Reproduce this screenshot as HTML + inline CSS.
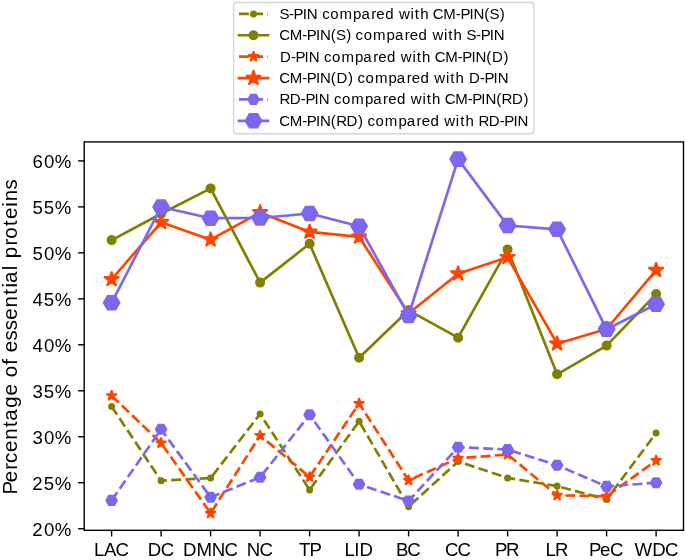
<!DOCTYPE html>
<html><head><meta charset="utf-8"><title>Percentage of essential proteins</title>
<style>html,body{margin:0;padding:0;background:#fff;}body{width:685px;height:560px;overflow:hidden;font-family:"Liberation Sans",sans-serif;}svg{display:block;will-change:transform;filter:blur(0.3px);}</style>
</head><body>
<svg width="685" height="560" viewBox="0 0 685 560" font-family="'Liberation Sans', sans-serif" fill="#000">
<rect x="84.2" y="141.9" width="599.3" height="388.4" fill="none" stroke="#000" stroke-width="1.4" stroke-linejoin="miter"/>
<line x1="78.1" y1="528.7" x2="84.2" y2="528.7" stroke="#000" stroke-width="1.4"/>
<text x="32.35 43.88 54.86" y="535.8" font-size="18.64">20%</text>
<line x1="78.1" y1="482.73" x2="84.2" y2="482.73" stroke="#000" stroke-width="1.4"/>
<text x="32.35 43.81 54.86" y="489.83" font-size="18.64">25%</text>
<line x1="78.1" y1="436.75" x2="84.2" y2="436.75" stroke="#000" stroke-width="1.4"/>
<text x="32.61 43.88 54.86" y="443.85" font-size="18.64">30%</text>
<line x1="78.1" y1="390.78" x2="84.2" y2="390.78" stroke="#000" stroke-width="1.4"/>
<text x="32.61 43.81 54.86" y="397.88" font-size="18.64">35%</text>
<line x1="78.1" y1="344.8" x2="84.2" y2="344.8" stroke="#000" stroke-width="1.4"/>
<text x="32.59 43.88 54.86" y="351.9" font-size="18.64">40%</text>
<line x1="78.1" y1="298.83" x2="84.2" y2="298.83" stroke="#000" stroke-width="1.4"/>
<text x="32.59 43.81 54.86" y="305.93" font-size="18.64">45%</text>
<line x1="78.1" y1="252.85" x2="84.2" y2="252.85" stroke="#000" stroke-width="1.4"/>
<text x="32.52 43.88 54.86" y="259.95" font-size="18.64">50%</text>
<line x1="78.1" y1="206.88" x2="84.2" y2="206.88" stroke="#000" stroke-width="1.4"/>
<text x="32.52 43.81 54.86" y="213.98" font-size="18.64">55%</text>
<line x1="78.1" y1="160.9" x2="84.2" y2="160.9" stroke="#000" stroke-width="1.4"/>
<text x="32.59 43.88 54.86" y="168" font-size="18.64">60%</text>
<line x1="111.6" y1="530.3" x2="111.6" y2="536.4" stroke="#000" stroke-width="1.4"/>
<text x="94.08 104.1 115.44" y="556.3" font-size="18.64">LAC</text>
<line x1="161.1" y1="530.3" x2="161.1" y2="536.4" stroke="#000" stroke-width="1.4"/>
<text x="147.81 160.71" y="556.3" font-size="18.64">DC</text>
<line x1="210.6" y1="530.3" x2="210.6" y2="536.4" stroke="#000" stroke-width="1.4"/>
<text x="183.02 196.45 211.77 224.51" y="556.3" font-size="18.64">DMNC</text>
<line x1="260.1" y1="530.3" x2="260.1" y2="536.4" stroke="#000" stroke-width="1.4"/>
<text x="246.78 259.52" y="556.3" font-size="18.64">NC</text>
<line x1="309.6" y1="530.3" x2="309.6" y2="536.4" stroke="#000" stroke-width="1.4"/>
<text x="298.89 309.43" y="556.3" font-size="18.64">TP</text>
<line x1="359.1" y1="530.3" x2="359.1" y2="536.4" stroke="#000" stroke-width="1.4"/>
<text x="344.49 354.27 359.61" y="556.3" font-size="18.64">LID</text>
<line x1="408.6" y1="530.3" x2="408.6" y2="536.4" stroke="#000" stroke-width="1.4"/>
<text x="395.92 407.31" y="556.3" font-size="18.64">BC</text>
<line x1="458.1" y1="530.3" x2="458.1" y2="536.4" stroke="#000" stroke-width="1.4"/>
<text x="445.06 457.45" y="556.3" font-size="18.64">CC</text>
<line x1="507.6" y1="530.3" x2="507.6" y2="536.4" stroke="#000" stroke-width="1.4"/>
<text x="494.9 505.89" y="556.3" font-size="18.64">PR</text>
<line x1="557.1" y1="530.3" x2="557.1" y2="536.4" stroke="#000" stroke-width="1.4"/>
<text x="545.5 554.98" y="556.3" font-size="18.64">LR</text>
<line x1="606.6" y1="530.3" x2="606.6" y2="536.4" stroke="#000" stroke-width="1.4"/>
<text x="588.95 599.9 609.88" y="556.3" font-size="18.64">PeC</text>
<line x1="656.1" y1="530.3" x2="656.1" y2="536.4" stroke="#000" stroke-width="1.4"/>
<text x="634.46 652.16 665.06" y="556.3" font-size="18.64">WDC</text>
<g transform="translate(17.1,336.05) rotate(-90)"><text x="-158.34 -146.28 -133.62 -126.98 -115.9 -103.68 -90.89 -84.61 -71.8 -59.42 -47.74 -41.25 -28.72 -22.68 -16.12 -4.34 5.85 16.28 28.49 41.28 48.46 52.99 65.86 70.86 77.69 90.46 97.37 109.98 117.06 129.19 134.71 146.67" y="0" font-size="20.53">Percentage of essential proteins</text></g>
<polyline points="111.6,406.4 161.1,480.7 210.6,478.1 260.1,414 309.6,489.9 359.1,421.3 408.6,506.7 458.1,461.5 507.6,477.9 557.1,486.1 606.6,499.4 656.1,433.1" fill="none" stroke="#808000" stroke-width="2.68" stroke-dasharray="9.91 4.29" stroke-linejoin="round" stroke-linecap="butt"/>
<circle cx="111.6" cy="406.4" r="2.63" fill="#808000" stroke="#808000" stroke-width="1.74"/>
<circle cx="161.1" cy="480.7" r="2.63" fill="#808000" stroke="#808000" stroke-width="1.74"/>
<circle cx="210.6" cy="478.1" r="2.63" fill="#808000" stroke="#808000" stroke-width="1.74"/>
<circle cx="260.1" cy="414" r="2.63" fill="#808000" stroke="#808000" stroke-width="1.74"/>
<circle cx="309.6" cy="489.9" r="2.63" fill="#808000" stroke="#808000" stroke-width="1.74"/>
<circle cx="359.1" cy="421.3" r="2.63" fill="#808000" stroke="#808000" stroke-width="1.74"/>
<circle cx="408.6" cy="506.7" r="2.63" fill="#808000" stroke="#808000" stroke-width="1.74"/>
<circle cx="458.1" cy="461.5" r="2.63" fill="#808000" stroke="#808000" stroke-width="1.74"/>
<circle cx="507.6" cy="477.9" r="2.63" fill="#808000" stroke="#808000" stroke-width="1.74"/>
<circle cx="557.1" cy="486.1" r="2.63" fill="#808000" stroke="#808000" stroke-width="1.74"/>
<circle cx="606.6" cy="499.4" r="2.63" fill="#808000" stroke="#808000" stroke-width="1.74"/>
<circle cx="656.1" cy="433.1" r="2.63" fill="#808000" stroke="#808000" stroke-width="1.74"/>
<polyline points="111.6,240.1 161.1,213.7 210.6,188.4 260.1,282.6 309.6,243.8 359.1,357.8 408.6,310.3 458.1,337.7 507.6,249.4 557.1,374.3 606.6,345.6 656.1,294.1" fill="none" stroke="#808000" stroke-width="2.68" stroke-linejoin="round" stroke-linecap="square"/>
<circle cx="111.6" cy="240.1" r="4.13" fill="#808000" stroke="#808000" stroke-width="1.74"/>
<circle cx="161.1" cy="213.7" r="4.13" fill="#808000" stroke="#808000" stroke-width="1.74"/>
<circle cx="210.6" cy="188.4" r="4.13" fill="#808000" stroke="#808000" stroke-width="1.74"/>
<circle cx="260.1" cy="282.6" r="4.13" fill="#808000" stroke="#808000" stroke-width="1.74"/>
<circle cx="309.6" cy="243.8" r="4.13" fill="#808000" stroke="#808000" stroke-width="1.74"/>
<circle cx="359.1" cy="357.8" r="4.13" fill="#808000" stroke="#808000" stroke-width="1.74"/>
<circle cx="408.6" cy="310.3" r="4.13" fill="#808000" stroke="#808000" stroke-width="1.74"/>
<circle cx="458.1" cy="337.7" r="4.13" fill="#808000" stroke="#808000" stroke-width="1.74"/>
<circle cx="507.6" cy="249.4" r="4.13" fill="#808000" stroke="#808000" stroke-width="1.74"/>
<circle cx="557.1" cy="374.3" r="4.13" fill="#808000" stroke="#808000" stroke-width="1.74"/>
<circle cx="606.6" cy="345.6" r="4.13" fill="#808000" stroke="#808000" stroke-width="1.74"/>
<circle cx="656.1" cy="294.1" r="4.13" fill="#808000" stroke="#808000" stroke-width="1.74"/>
<polyline points="111.6,395.7 161.1,443 210.6,513.3 260.1,435.5 309.6,477 359.1,403.5 408.6,480.3 458.1,458.3 507.6,454.5 557.1,495.3 606.6,496.3 656.1,460.6" fill="none" stroke="#ff4500" stroke-width="2.68" stroke-dasharray="9.91 4.29" stroke-linejoin="round" stroke-linecap="butt"/>
<polygon points="111.6,390.2 110.37,394 106.37,394 109.6,396.35 108.37,400.15 111.6,397.8 114.83,400.15 113.6,396.35 116.83,394 112.83,394" fill="#ff4500" stroke="#ff4500" stroke-width="1.74" stroke-linejoin="bevel"/>
<polygon points="161.1,437.5 159.87,441.3 155.87,441.3 159.1,443.65 157.87,447.45 161.1,445.1 164.33,447.45 163.1,443.65 166.33,441.3 162.33,441.3" fill="#ff4500" stroke="#ff4500" stroke-width="1.74" stroke-linejoin="bevel"/>
<polygon points="210.6,507.8 209.37,511.6 205.37,511.6 208.6,513.95 207.37,517.75 210.6,515.4 213.83,517.75 212.6,513.95 215.83,511.6 211.83,511.6" fill="#ff4500" stroke="#ff4500" stroke-width="1.74" stroke-linejoin="bevel"/>
<polygon points="260.1,430 258.87,433.8 254.87,433.8 258.1,436.15 256.87,439.95 260.1,437.6 263.33,439.95 262.1,436.15 265.33,433.8 261.33,433.8" fill="#ff4500" stroke="#ff4500" stroke-width="1.74" stroke-linejoin="bevel"/>
<polygon points="309.6,471.5 308.37,475.3 304.37,475.3 307.6,477.65 306.37,481.45 309.6,479.1 312.83,481.45 311.6,477.65 314.83,475.3 310.83,475.3" fill="#ff4500" stroke="#ff4500" stroke-width="1.74" stroke-linejoin="bevel"/>
<polygon points="359.1,398 357.87,401.8 353.87,401.8 357.1,404.15 355.87,407.95 359.1,405.6 362.33,407.95 361.1,404.15 364.33,401.8 360.33,401.8" fill="#ff4500" stroke="#ff4500" stroke-width="1.74" stroke-linejoin="bevel"/>
<polygon points="408.6,474.8 407.37,478.6 403.37,478.6 406.6,480.95 405.37,484.75 408.6,482.4 411.83,484.75 410.6,480.95 413.83,478.6 409.83,478.6" fill="#ff4500" stroke="#ff4500" stroke-width="1.74" stroke-linejoin="bevel"/>
<polygon points="458.1,452.8 456.87,456.6 452.87,456.6 456.1,458.95 454.87,462.75 458.1,460.4 461.33,462.75 460.1,458.95 463.33,456.6 459.33,456.6" fill="#ff4500" stroke="#ff4500" stroke-width="1.74" stroke-linejoin="bevel"/>
<polygon points="507.6,449 506.37,452.8 502.37,452.8 505.6,455.15 504.37,458.95 507.6,456.6 510.83,458.95 509.6,455.15 512.83,452.8 508.83,452.8" fill="#ff4500" stroke="#ff4500" stroke-width="1.74" stroke-linejoin="bevel"/>
<polygon points="557.1,489.8 555.87,493.6 551.87,493.6 555.1,495.95 553.87,499.75 557.1,497.4 560.33,499.75 559.1,495.95 562.33,493.6 558.33,493.6" fill="#ff4500" stroke="#ff4500" stroke-width="1.74" stroke-linejoin="bevel"/>
<polygon points="606.6,490.8 605.37,494.6 601.37,494.6 604.6,496.95 603.37,500.75 606.6,498.4 609.83,500.75 608.6,496.95 611.83,494.6 607.83,494.6" fill="#ff4500" stroke="#ff4500" stroke-width="1.74" stroke-linejoin="bevel"/>
<polygon points="656.1,455.1 654.87,458.9 650.87,458.9 654.1,461.25 652.87,465.05 656.1,462.7 659.33,465.05 658.1,461.25 661.33,458.9 657.33,458.9" fill="#ff4500" stroke="#ff4500" stroke-width="1.74" stroke-linejoin="bevel"/>
<polyline points="111.6,279.4 161.1,222.3 210.6,239.7 260.1,212.4 309.6,231.9 359.1,236.9 408.6,313.5 458.1,273.7 507.6,257.3 557.1,343.7 606.6,329 656.1,270.2" fill="none" stroke="#ff4500" stroke-width="2.68" stroke-linejoin="round" stroke-linecap="square"/>
<polygon points="111.6,271.4 109.8,276.93 103.99,276.93 108.69,280.34 106.9,285.87 111.6,282.46 116.3,285.87 114.51,280.34 119.21,276.93 113.4,276.93" fill="#ff4500" stroke="#ff4500" stroke-width="1.74" stroke-linejoin="bevel"/>
<polygon points="161.1,214.3 159.3,219.83 153.49,219.83 158.19,223.24 156.4,228.77 161.1,225.36 165.8,228.77 164.01,223.24 168.71,219.83 162.9,219.83" fill="#ff4500" stroke="#ff4500" stroke-width="1.74" stroke-linejoin="bevel"/>
<polygon points="210.6,231.7 208.8,237.23 202.99,237.23 207.69,240.64 205.9,246.17 210.6,242.76 215.3,246.17 213.51,240.64 218.21,237.23 212.4,237.23" fill="#ff4500" stroke="#ff4500" stroke-width="1.74" stroke-linejoin="bevel"/>
<polygon points="260.1,204.4 258.3,209.93 252.49,209.93 257.19,213.34 255.4,218.87 260.1,215.46 264.8,218.87 263.01,213.34 267.71,209.93 261.9,209.93" fill="#ff4500" stroke="#ff4500" stroke-width="1.74" stroke-linejoin="bevel"/>
<polygon points="309.6,223.9 307.8,229.43 301.99,229.43 306.69,232.84 304.9,238.37 309.6,234.96 314.3,238.37 312.51,232.84 317.21,229.43 311.4,229.43" fill="#ff4500" stroke="#ff4500" stroke-width="1.74" stroke-linejoin="bevel"/>
<polygon points="359.1,228.9 357.3,234.43 351.49,234.43 356.19,237.84 354.4,243.37 359.1,239.96 363.8,243.37 362.01,237.84 366.71,234.43 360.9,234.43" fill="#ff4500" stroke="#ff4500" stroke-width="1.74" stroke-linejoin="bevel"/>
<polygon points="408.6,305.5 406.8,311.03 400.99,311.03 405.69,314.44 403.9,319.97 408.6,316.56 413.3,319.97 411.51,314.44 416.21,311.03 410.4,311.03" fill="#ff4500" stroke="#ff4500" stroke-width="1.74" stroke-linejoin="bevel"/>
<polygon points="458.1,265.7 456.3,271.23 450.49,271.23 455.19,274.64 453.4,280.17 458.1,276.76 462.8,280.17 461.01,274.64 465.71,271.23 459.9,271.23" fill="#ff4500" stroke="#ff4500" stroke-width="1.74" stroke-linejoin="bevel"/>
<polygon points="507.6,249.3 505.8,254.83 499.99,254.83 504.69,258.24 502.9,263.77 507.6,260.36 512.3,263.77 510.51,258.24 515.21,254.83 509.4,254.83" fill="#ff4500" stroke="#ff4500" stroke-width="1.74" stroke-linejoin="bevel"/>
<polygon points="557.1,335.7 555.3,341.23 549.49,341.23 554.19,344.64 552.4,350.17 557.1,346.76 561.8,350.17 560.01,344.64 564.71,341.23 558.9,341.23" fill="#ff4500" stroke="#ff4500" stroke-width="1.74" stroke-linejoin="bevel"/>
<polygon points="606.6,321 604.8,326.53 598.99,326.53 603.69,329.94 601.9,335.47 606.6,332.06 611.3,335.47 609.51,329.94 614.21,326.53 608.4,326.53" fill="#ff4500" stroke="#ff4500" stroke-width="1.74" stroke-linejoin="bevel"/>
<polygon points="656.1,262.2 654.3,267.73 648.49,267.73 653.19,271.14 651.4,276.67 656.1,273.26 660.8,276.67 659.01,271.14 663.71,267.73 657.9,267.73" fill="#ff4500" stroke="#ff4500" stroke-width="1.74" stroke-linejoin="bevel"/>
<polyline points="111.6,500.4 161.1,429.3 210.6,497.3 260.1,477.3 309.6,414.8 359.1,484.3 408.6,501 458.1,447.2 507.6,449.5 557.1,465.3 606.6,486.4 656.1,482.7" fill="none" stroke="#7b68ee" stroke-width="2.68" stroke-dasharray="9.91 4.29" stroke-linejoin="round" stroke-linecap="butt"/>
<polygon points="117,500.4 114.3,495.72 108.9,495.72 106.2,500.4 108.9,505.08 114.3,505.08" fill="#7b68ee" stroke="#7b68ee" stroke-width="1.74" stroke-linejoin="miter"/>
<polygon points="166.5,429.3 163.8,424.62 158.4,424.62 155.7,429.3 158.4,433.98 163.8,433.98" fill="#7b68ee" stroke="#7b68ee" stroke-width="1.74" stroke-linejoin="miter"/>
<polygon points="216,497.3 213.3,492.62 207.9,492.62 205.2,497.3 207.9,501.98 213.3,501.98" fill="#7b68ee" stroke="#7b68ee" stroke-width="1.74" stroke-linejoin="miter"/>
<polygon points="265.5,477.3 262.8,472.62 257.4,472.62 254.7,477.3 257.4,481.98 262.8,481.98" fill="#7b68ee" stroke="#7b68ee" stroke-width="1.74" stroke-linejoin="miter"/>
<polygon points="315,414.8 312.3,410.12 306.9,410.12 304.2,414.8 306.9,419.48 312.3,419.48" fill="#7b68ee" stroke="#7b68ee" stroke-width="1.74" stroke-linejoin="miter"/>
<polygon points="364.5,484.3 361.8,479.62 356.4,479.62 353.7,484.3 356.4,488.98 361.8,488.98" fill="#7b68ee" stroke="#7b68ee" stroke-width="1.74" stroke-linejoin="miter"/>
<polygon points="414,501 411.3,496.32 405.9,496.32 403.2,501 405.9,505.68 411.3,505.68" fill="#7b68ee" stroke="#7b68ee" stroke-width="1.74" stroke-linejoin="miter"/>
<polygon points="463.5,447.2 460.8,442.52 455.4,442.52 452.7,447.2 455.4,451.88 460.8,451.88" fill="#7b68ee" stroke="#7b68ee" stroke-width="1.74" stroke-linejoin="miter"/>
<polygon points="513,449.5 510.3,444.82 504.9,444.82 502.2,449.5 504.9,454.18 510.3,454.18" fill="#7b68ee" stroke="#7b68ee" stroke-width="1.74" stroke-linejoin="miter"/>
<polygon points="562.5,465.3 559.8,460.62 554.4,460.62 551.7,465.3 554.4,469.98 559.8,469.98" fill="#7b68ee" stroke="#7b68ee" stroke-width="1.74" stroke-linejoin="miter"/>
<polygon points="612,486.4 609.3,481.72 603.9,481.72 601.2,486.4 603.9,491.08 609.3,491.08" fill="#7b68ee" stroke="#7b68ee" stroke-width="1.74" stroke-linejoin="miter"/>
<polygon points="661.5,482.7 658.8,478.02 653.4,478.02 650.7,482.7 653.4,487.38 658.8,487.38" fill="#7b68ee" stroke="#7b68ee" stroke-width="1.74" stroke-linejoin="miter"/>
<polyline points="111.6,302.8 161.1,207 210.6,218.2 260.1,218 309.6,213.5 359.1,226.3 408.6,315.4 458.1,159.1 507.6,225.5 557.1,229.3 606.6,329.3 656.1,304.3" fill="none" stroke="#7b68ee" stroke-width="2.68" stroke-linejoin="round" stroke-linecap="square"/>
<polygon points="119.6,302.8 115.6,295.87 107.6,295.87 103.6,302.8 107.6,309.73 115.6,309.73" fill="#7b68ee" stroke="#7b68ee" stroke-width="1.74" stroke-linejoin="miter"/>
<polygon points="169.1,207 165.1,200.07 157.1,200.07 153.1,207 157.1,213.93 165.1,213.93" fill="#7b68ee" stroke="#7b68ee" stroke-width="1.74" stroke-linejoin="miter"/>
<polygon points="218.6,218.2 214.6,211.27 206.6,211.27 202.6,218.2 206.6,225.13 214.6,225.13" fill="#7b68ee" stroke="#7b68ee" stroke-width="1.74" stroke-linejoin="miter"/>
<polygon points="268.1,218 264.1,211.07 256.1,211.07 252.1,218 256.1,224.93 264.1,224.93" fill="#7b68ee" stroke="#7b68ee" stroke-width="1.74" stroke-linejoin="miter"/>
<polygon points="317.6,213.5 313.6,206.57 305.6,206.57 301.6,213.5 305.6,220.43 313.6,220.43" fill="#7b68ee" stroke="#7b68ee" stroke-width="1.74" stroke-linejoin="miter"/>
<polygon points="367.1,226.3 363.1,219.37 355.1,219.37 351.1,226.3 355.1,233.23 363.1,233.23" fill="#7b68ee" stroke="#7b68ee" stroke-width="1.74" stroke-linejoin="miter"/>
<polygon points="416.6,315.4 412.6,308.47 404.6,308.47 400.6,315.4 404.6,322.33 412.6,322.33" fill="#7b68ee" stroke="#7b68ee" stroke-width="1.74" stroke-linejoin="miter"/>
<polygon points="466.1,159.1 462.1,152.17 454.1,152.17 450.1,159.1 454.1,166.03 462.1,166.03" fill="#7b68ee" stroke="#7b68ee" stroke-width="1.74" stroke-linejoin="miter"/>
<polygon points="515.6,225.5 511.6,218.57 503.6,218.57 499.6,225.5 503.6,232.43 511.6,232.43" fill="#7b68ee" stroke="#7b68ee" stroke-width="1.74" stroke-linejoin="miter"/>
<polygon points="565.1,229.3 561.1,222.37 553.1,222.37 549.1,229.3 553.1,236.23 561.1,236.23" fill="#7b68ee" stroke="#7b68ee" stroke-width="1.74" stroke-linejoin="miter"/>
<polygon points="614.6,329.3 610.6,322.37 602.6,322.37 598.6,329.3 602.6,336.23 610.6,336.23" fill="#7b68ee" stroke="#7b68ee" stroke-width="1.74" stroke-linejoin="miter"/>
<polygon points="664.1,304.3 660.1,297.37 652.1,297.37 648.1,304.3 652.1,311.23 660.1,311.23" fill="#7b68ee" stroke="#7b68ee" stroke-width="1.74" stroke-linejoin="miter"/>
<rect x="233.6" y="2.5" width="300.3" height="131.2" rx="2.9" ry="2.9" fill="#fff" fill-opacity="0.8" stroke="#d6d6d6" stroke-width="1.4"/>
<line x1="239" y1="13.9" x2="268" y2="13.9" stroke="#808000" stroke-width="2.68" stroke-dasharray="9.91 4.29" stroke-linecap="butt"/>
<circle cx="253.5" cy="13.9" r="2.63" fill="#808000" stroke="#808000" stroke-width="1.74"/>
<text x="279.41 288.96 293.58 302.68 306.8 317.57 322.13 330.19 339.48 353.11 361.41 371.22 376.32 385.14 393.94 398.91 410.51 414.84 420.13 428.83 432.86 443.27 455.77 460.4 469.5 473.62 484.3 489.58 499.72" y="18.9" font-size="15.02">S-PIN compared with CM-PIN(S)</text>
<line x1="239" y1="35.28" x2="268" y2="35.28" stroke="#808000" stroke-width="2.68" stroke-linecap="square"/>
<circle cx="253.5" cy="35.28" r="4.13" fill="#808000" stroke="#808000" stroke-width="1.74"/>
<text x="279.29 289.7 302.2 306.82 315.93 320.05 330.73 336.01 346.15 351.06 355.61 363.67 372.96 386.6 394.89 404.7 409.8 418.62 427.42 432.39 443.99 448.32 453.61 462.31 466.46 476.01 480.63 489.74 493.85" y="40.28" font-size="15.02">CM-PIN(S) compared with S-PIN</text>
<line x1="239" y1="56.66" x2="268" y2="56.66" stroke="#ff4500" stroke-width="2.68" stroke-dasharray="9.91 4.29" stroke-linecap="butt"/>
<polygon points="253.5,51.16 252.27,54.96 248.27,54.96 251.5,57.31 250.27,61.11 253.5,58.76 256.73,61.11 255.5,57.31 258.73,54.96 254.73,54.96" fill="#ff4500" stroke="#ff4500" stroke-width="1.74" stroke-linejoin="bevel"/>
<text x="279.91 290.89 295.51 304.62 308.74 319.51 324.06 332.12 341.42 355.05 363.34 373.15 378.25 387.08 395.88 400.84 412.44 416.77 422.06 430.76 434.79 445.21 457.71 462.33 471.43 475.55 486.24 492.01 503.59" y="61.66" font-size="15.02">D-PIN compared with CM-PIN(D)</text>
<line x1="239" y1="78.04" x2="268" y2="78.04" stroke="#ff4500" stroke-width="2.68" stroke-linecap="square"/>
<polygon points="253.5,70.04 251.7,75.57 245.89,75.57 250.59,78.98 248.8,84.51 253.5,81.1 258.2,84.51 256.41,78.98 261.11,75.57 255.3,75.57" fill="#ff4500" stroke="#ff4500" stroke-width="1.74" stroke-linejoin="bevel"/>
<text x="279.29 289.7 302.2 306.82 315.93 320.05 330.73 336.51 348.08 352.99 357.54 365.6 374.9 388.53 396.82 406.63 411.73 420.56 429.36 434.32 445.92 450.25 455.54 464.24 468.89 479.88 484.5 493.6 497.72" y="83.04" font-size="15.02">CM-PIN(D) compared with D-PIN</text>
<line x1="239" y1="99.42" x2="268" y2="99.42" stroke="#7b68ee" stroke-width="2.68" stroke-dasharray="9.91 4.29" stroke-linecap="butt"/>
<polygon points="258.9,99.42 256.2,94.74 250.8,94.74 248.1,99.42 250.8,104.1 256.2,104.1" fill="#7b68ee" stroke="#7b68ee" stroke-width="1.74" stroke-linejoin="miter"/>
<text x="279.57 289.84 300.83 305.45 314.55 318.67 329.45 334 342.06 351.35 364.98 373.28 383.09 388.19 397.01 405.81 410.78 422.38 426.71 432 440.7 444.73 455.14 467.64 472.27 481.37 485.49 496.17 501.62 511.88 523.46" y="104.42" font-size="15.02">RD-PIN compared with CM-PIN(RD)</text>
<line x1="239" y1="120.8" x2="268" y2="120.8" stroke="#7b68ee" stroke-width="2.68" stroke-linecap="square"/>
<polygon points="261.5,120.8 257.5,113.87 249.5,113.87 245.5,120.8 249.5,127.73 257.5,127.73" fill="#7b68ee" stroke="#7b68ee" stroke-width="1.74" stroke-linejoin="miter"/>
<text x="279.29 289.7 302.2 306.82 315.93 320.05 330.73 336.17 346.44 358.02 362.93 367.48 375.54 384.83 398.47 406.76 416.57 421.67 430.49 439.29 444.26 455.86 460.19 465.48 474.18 478.5 488.76 499.75 504.37 513.48 517.59" y="125.8" font-size="15.02">CM-PIN(RD) compared with RD-PIN</text>
</svg>
</body></html>
